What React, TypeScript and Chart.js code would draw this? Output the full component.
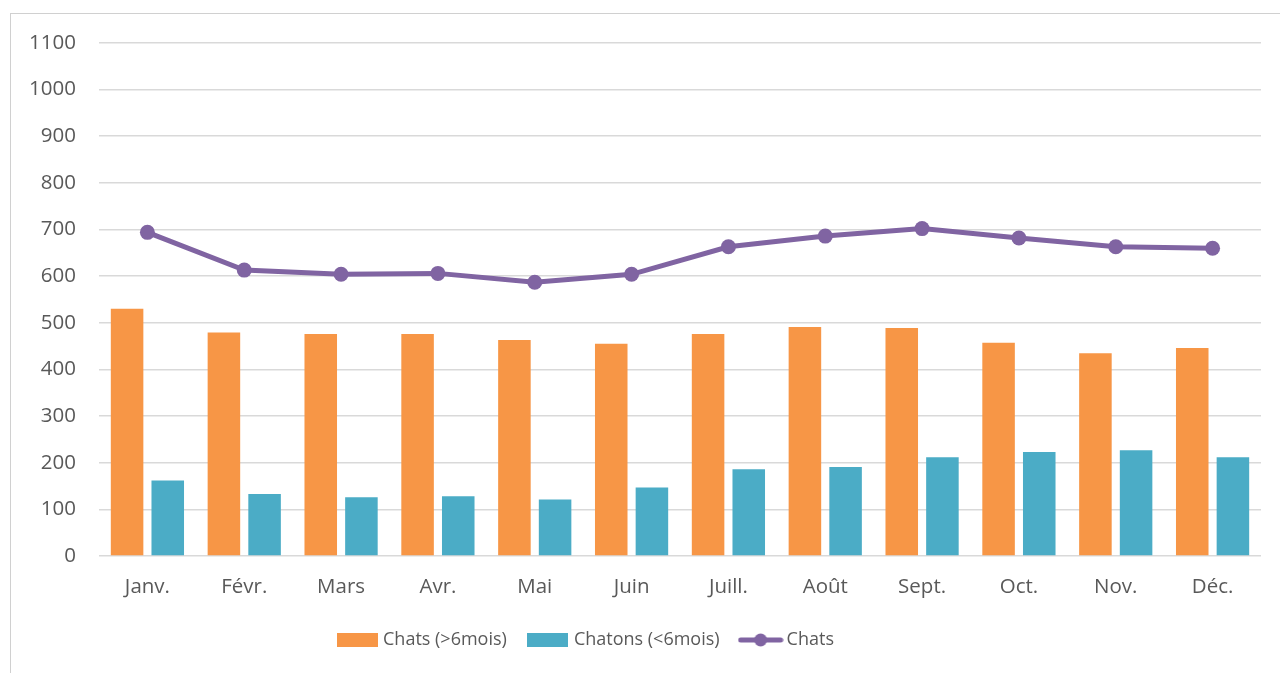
import React, { useEffect, useRef } from "react";
import { Chart, registerables } from "chart.js";

Chart.register(...registerables);

const months = ["Janv.", "Févr.", "Mars", "Avr.", "Mai", "Juin", "Juill.", "Août", "Sept.", "Oct.", "Nov.", "Déc."];
const adultCats = [530, 479, 476, 476, 463, 455, 476, 491, 489, 457, 435, 446];
const kittens = [162, 133, 126, 128, 121, 147, 186, 191, 212, 223, 227, 212];
const totalCats = [694, 613, 604, 606, 587, 604, 663, 686, 702, 682, 663, 660];
const seriesNames = ["Chats (>6mois)", "Chatons (<6mois)", "Chats"];
const yMin = 0;
const yMax = 1100;
const yStep = 100;

const ORANGE = "#F79646";
const TEAL = "#4BACC6";
const PURPLE = "#8064A2";
const TEXT = "#595959";
const GRID = "#d9d9d9";
const FONT = "'Open Sans', 'Noto Sans', sans-serif";
const AXIS_SIZE = 20.5;
const LEGEND_SIZE = 18;

function rectIcon(color: string) {
  const c = document.createElement("canvas");
  c.width = 41;
  c.height = 14;
  const g = c.getContext("2d")!;
  g.fillStyle = color;
  g.fillRect(0, 0, 41, 14);
  return c;
}

function lineIcon(color: string) {
  const c = document.createElement("canvas");
  c.width = 46;
  c.height = 14;
  const g = c.getContext("2d")!;
  g.strokeStyle = color;
  g.lineWidth = 5;
  g.lineCap = "round";
  g.beginPath();
  g.moveTo(3, 7);
  g.lineTo(43, 7);
  g.stroke();
  g.fillStyle = color;
  g.beginPath();
  g.arc(23, 7, 6.5, 0, Math.PI * 2);
  g.fill();
  return c;
}

export default function App() {
  const ref = useRef<HTMLCanvasElement | null>(null);

  useEffect(() => {
    if (!ref.current) return;
    const icons = [rectIcon(ORANGE), rectIcon(TEAL), lineIcon(PURPLE)];
    const chart = new Chart(ref.current, {
      type: "bar",
      data: {
        labels: months,
        datasets: [
          {
            type: "bar",
            label: seriesNames[0],
            data: adultCats,
            backgroundColor: ORANGE,
            borderWidth: 0,
            categoryPercentage: 0.84,
            barPercentage: 0.8,
            order: 2,
          },
          {
            type: "bar",
            label: seriesNames[1],
            data: kittens,
            backgroundColor: TEAL,
            borderWidth: 0,
            categoryPercentage: 0.84,
            barPercentage: 0.8,
            order: 2,
          },
          {
            type: "line",
            label: seriesNames[2],
            data: totalCats,
            borderColor: PURPLE,
            backgroundColor: PURPLE,
            borderWidth: 5,
            pointRadius: 7.5,
            pointBackgroundColor: PURPLE,
            pointBorderWidth: 0,
            tension: 0,
            order: 0,
          } as any,
        ],
      },
      options: {
        responsive: false,
        animation: false,
        layout: { padding: { top: 43, right: 19, left: 0, bottom: 14 } },
        plugins: {
          tooltip: { enabled: false },
          legend: {
            position: "bottom",
            labels: {
              color: TEXT,
              font: { family: FONT, size: LEGEND_SIZE },
              usePointStyle: true,
              pointStyleWidth: 34,
              boxHeight: 14,
              padding: 24,
              generateLabels: (ch: any) =>
                ch.data.datasets.map((ds: any, i: number) => ({
                  text: ds.label,
                  pointStyle: icons[i],
                  fillStyle: "transparent",
                  strokeStyle: "transparent",
                  lineWidth: 0,
                  hidden: false,
                  datasetIndex: i,
                  fontColor: TEXT,
                })),
            },
          },
        },
        scales: {
          x: {
            grid: { display: false, drawTicks: false },
            border: { display: false },
            ticks: { color: TEXT, font: { family: FONT, size: AXIS_SIZE }, padding: 19 },
            afterFit: (s: any) => {
              s.height = 51;
            },
          },
          y: {
            min: yMin,
            max: yMax,
            grid: { color: GRID, lineWidth: 1.6, drawTicks: false },
            border: { display: false },
            ticks: {
              stepSize: yStep,
              color: TEXT,
              font: { family: FONT, size: AXIS_SIZE },
              padding: 23,
              callback: (v: any) => String(v),
            },
            afterFit: (s: any) => {
              s.width = 99;
            },
          },
        },
      },
      plugins: [
        {
          id: "shiftLegend",
          afterLayout: (ch: any) => {
            if (ch.legend) {
              ch.legend.left = 0;
              ch.legend.right = 1174;
            }
          },
        },
      ],
    } as any);
    return () => chart.destroy();
  }, []);

  return (
    <div style={{ position: "fixed", left: 0, top: 0, width: 1280, height: 673, overflow: "hidden", background: "#fff" }}>
      <div style={{ position: "absolute", left: 10, top: 13, width: 1400, height: 800, border: "1px solid #d0d0d0" }} />
      <canvas ref={ref} width={1280} height={673} style={{ position: "absolute", left: 0, top: 0 }} />
    </div>
  );
}
